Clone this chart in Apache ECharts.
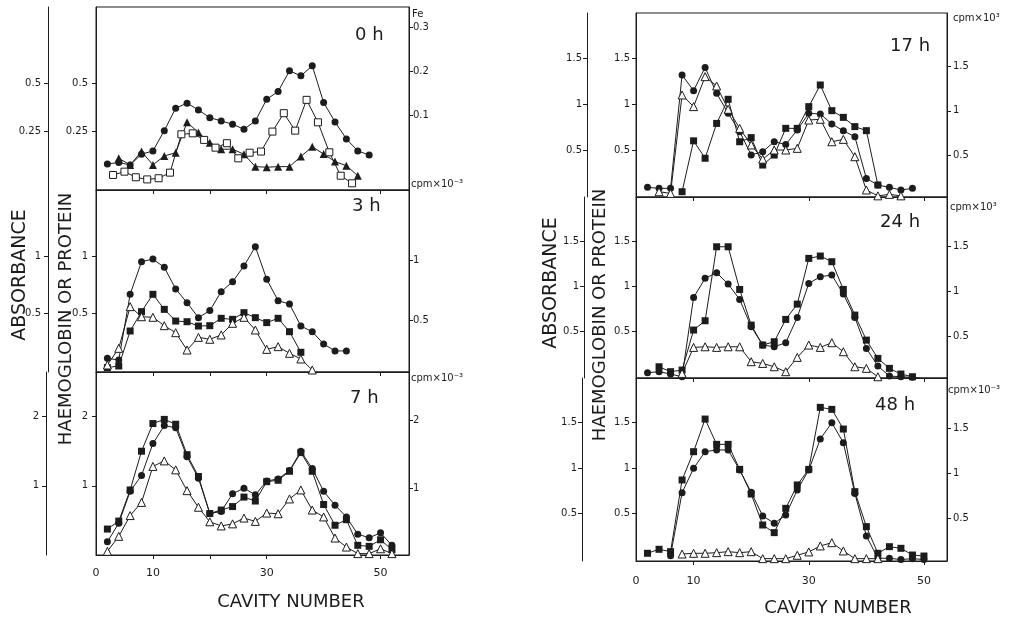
<!DOCTYPE html>
<html>
<head>
<meta charset="utf-8">
<script src="https://cdn.jsdelivr.net/npm/echarts@6/dist/echarts.min.js"></script>
<style>
html, body { margin: 0; background: #fff; }
#main { width: 1020px; height: 619px; }
</style>
</head>
<body>
<div id="main"></div>
<script>
// ---- readings, one panel at a time (x = cavity number, y = absorbance) ----

// 0 h
const cav0hCircle = [2, 4, 6, 8, 10, 12, 14, 16, 18, 20, 22, 24, 26, 28, 30, 32, 34, 36, 38, 40, 42, 44, 46, 48];
const abs0hCircle = [0.083, 0.09, 0.078, 0.133, 0.15, 0.255, 0.371, 0.397, 0.362, 0.322, 0.305, 0.288, 0.262, 0.305, 0.417, 0.457, 0.564, 0.538, 0.59, 0.40, 0.30, 0.212, 0.15, 0.129];
const cav0hTriangle = [4, 6, 8, 10, 12, 14, 16, 18, 20, 22, 24, 26, 28, 30, 32, 34, 36, 38, 40, 42, 44, 46];
const abs0hTriangle = [0.112, 0.078, 0.147, 0.078, 0.124, 0.141, 0.298, 0.245, 0.193, 0.159, 0.159, 0.133, 0.069, 0.066, 0.069, 0.069, 0.121, 0.172, 0.134, 0.095, 0.074, 0.022];
const cav0hOpenSquare = [3, 5, 7, 9, 11, 13, 15, 17, 19, 21, 23, 25, 27, 29, 31, 33, 35, 37, 39, 41, 43, 45];
const abs0hOpenSquare = [0.026, 0.043, 0.014, 0.003, 0.009, 0.038, 0.236, 0.241, 0.207, 0.167, 0.19, 0.112, 0.141, 0.147, 0.25, 0.345, 0.255, 0.414, 0.298, 0.143, 0.022, -0.017];

// 3 h
const cav3hCircle = [2, 4, 6, 8, 10, 12, 14, 16, 18, 20, 22, 24, 26, 28, 30, 32, 34, 36, 38, 40, 42, 44];
const abs3hCircle = [0.103, 0.088, 0.668, 0.956, 0.979, 0.906, 0.715, 0.594, 0.462, 0.524, 0.691, 0.779, 0.918, 1.088, 0.80, 0.612, 0.582, 0.388, 0.338, 0.229, 0.168, 0.168];
const cav3hSquare = [2, 4, 6, 8, 10, 12, 14, 16, 18, 20, 22, 24, 26, 28, 30, 32, 34, 36];
const abs3hSquare = [0.021, 0.035, 0.344, 0.515, 0.668, 0.535, 0.432, 0.426, 0.388, 0.391, 0.456, 0.447, 0.506, 0.462, 0.418, 0.456, 0.338, 0.156];
const cav3hOpenTriangle = [2, 4, 6, 8, 10, 12, 14, 16, 18, 20, 22, 24, 26, 28, 30, 32, 34, 36, 38];
const abs3hOpenTriangle = [0.044, 0.191, 0.559, 0.47, 0.465, 0.391, 0.329, 0.176, 0.288, 0.271, 0.309, 0.412, 0.465, 0.353, 0.182, 0.206, 0.147, 0.097, 0.0];

// 7 h
const cav7h = [2, 4, 6, 8, 10, 12, 14, 16, 18, 20, 22, 24, 26, 28, 30, 32, 34, 36, 38, 40, 42, 44, 46, 48, 50, 52];
const abs7hCircle = [0.19, 0.46, 0.92, 1.15, 1.61, 1.87, 1.84, 1.42, 1.11, 0.60, 0.63, 0.885, 0.966, 0.87, 1.07, 1.10, 1.22, 1.50, 1.25, 0.92, 0.72, 0.55, 0.30, 0.25, 0.32, 0.14];
const abs7hSquare = [0.375, 0.49, 0.94, 1.50, 1.90, 1.96, 1.89, 1.45, 1.135, 0.60, 0.65, 0.70, 0.837, 0.78, 1.06, 1.08, 1.21, 1.48, 1.21, 0.73, 0.43, 0.51, 0.14, 0.125, 0.22, 0.077];
const abs7hOpenTriangle = [0.053, 0.27, 0.57, 0.76, 1.28, 1.36, 1.23, 0.93, 0.69, 0.48, 0.42, 0.45, 0.534, 0.486, 0.606, 0.596, 0.81, 0.94, 0.65, 0.55, 0.245, 0.115, 0.02, 0.02, 0.09, 0.02];

// 17 h
const cav17hCircle = [2, 4, 6, 8, 10, 12, 14, 16, 18, 20, 22, 24, 26, 28, 30, 32, 34, 36, 38, 40, 42, 44, 46, 48];
const abs17hCircle = [0.093, 0.082, 0.082, 1.318, 1.147, 1.40, 1.118, 0.90, 0.70, 0.445, 0.482, 0.59, 0.56, 0.718, 0.90, 0.893, 0.784, 0.71, 0.645, 0.19, 0.118, 0.093, 0.064, 0.082];
const cav17hOpenTriangle = [4, 6, 8, 10, 12, 14, 16, 18, 20, 22, 24, 26, 28, 30, 32, 34, 36, 38, 40, 42, 44, 46];
const abs17hOpenTriangle = [0.045, 0.027, 1.10, 0.973, 1.30, 1.198, 0.944, 0.736, 0.555, 0.40, 0.50, 0.50, 0.518, 0.827, 0.835, 0.59, 0.616, 0.427, 0.064, 0.0, 0.016, 0.0];
const cav17hSquare = [8, 10, 12, 14, 16, 18, 20, 22, 24, 26, 28, 30, 32, 34, 36, 38, 40, 42];
const abs17hSquare = [0.045, 0.60, 0.41, 0.79, 1.053, 0.59, 0.635, 0.336, 0.445, 0.736, 0.736, 0.973, 1.209, 0.929, 0.856, 0.755, 0.711, 0.118];

// 24 h
const cav24hCircle = [2, 4, 6, 8, 10, 12, 14, 16, 18, 20, 22, 24, 26, 28, 30, 32, 34, 36, 38, 40, 42, 44, 46, 48, 50];
const abs24hCircle = [0.044, 0.056, 0.03, 0.0, 0.88, 1.093, 1.156, 1.03, 0.859, 0.556, 0.352, 0.333, 0.378, 0.659, 1.037, 1.111, 1.13, 0.919, 0.659, 0.315, 0.119, 0.008, 0.0, -0.007, -0.02];
const cav24hSquare = [4, 6, 8, 10, 12, 14, 16, 18, 20, 22, 24, 26, 28, 30, 32, 34, 36, 38, 40, 42, 44, 46, 48];
const abs24hSquare = [0.111, 0.056, 0.074, 0.519, 0.622, 1.444, 1.444, 0.97, 0.574, 0.352, 0.389, 0.637, 0.807, 1.315, 1.341, 1.278, 0.97, 0.685, 0.407, 0.204, 0.093, 0.03, 0.0];
const cav24hOpenTriangle = [8, 10, 12, 14, 16, 18, 20, 22, 24, 26, 28, 30, 32, 34, 36, 38, 40, 42];
const abs24hOpenTriangle = [0.037, 0.326, 0.333, 0.326, 0.333, 0.333, 0.167, 0.148, 0.111, 0.056, 0.215, 0.352, 0.326, 0.378, 0.278, 0.111, 0.093, 0.0];

// 48 h
const cav48hSquare = [2, 4, 6, 8, 10, 12, 14, 16, 18, 20, 22, 24, 26, 28, 30, 32, 34, 36, 38, 40, 42, 44, 46, 48, 50];
const abs48hSquare = [0.059, 0.103, 0.077, 0.868, 1.18, 1.54, 1.261, 1.261, 0.985, 0.713, 0.371, 0.287, 0.555, 0.813, 0.985, 1.669, 1.647, 1.43, 0.739, 0.353, 0.059, 0.132, 0.114, 0.04, 0.029];
const cav48hCircle = [6, 8, 10, 12, 14, 16, 18, 20, 22, 24, 26, 28, 30, 32, 34, 36, 38, 40, 42, 44, 46, 48, 50];
const abs48hCircle = [0.033, 0.728, 0.996, 1.18, 1.199, 1.199, 0.978, 0.732, 0.471, 0.39, 0.482, 0.757, 0.978, 1.32, 1.50, 1.279, 0.72, 0.25, 0.004, 0.004, -0.01, 0.0, -0.01];
const cav48hOpenTriangle = [8, 10, 12, 14, 16, 18, 20, 22, 24, 26, 28, 30, 32, 34, 36, 38, 40, 42];
const abs48hOpenTriangle = [0.051, 0.059, 0.059, 0.066, 0.077, 0.066, 0.077, 0.0, 0.0, 0.0, 0.037, 0.074, 0.14, 0.176, 0.085, 0.0, 0.0, 0.0];

// tick labels
const xLabels = [0, 10, 30, 50];
const xTicksLeft = [10, 20, 30, 50];
const xTicksRight = [10, 30, 50];
const yTicks0h = [0.25, 0.5];
const yTicksFe = [0.1, 0.2, 0.3];
const yTicks3h = [0.5, 1];
const yTicks7h = [1, 2];
const yTicksLate = [0.5, 1, 1.5];

// ---- layout ----
const ink = '#1c1c1c';
const fam = '"DejaVu Sans", sans-serif';

// one entry per panel: frame box, axis ranges, tick sets
const panels = [
    {name: '0 h',  left: 96,  top: 7,   width: 313, height: 183, xMax: 55, xTicks: xTicksLeft,  bottom: false,
     inner: [-0.0517, 0.8936], right: [-0.0705, 0.3455], yTicks: yTicks0h, rTicks: yTicksFe,   unit: 'Fe',
     outerOffset: 48, innerMargin: 8, outerMargin: 7, rightMargin: 4, titleAt: [355, 35], unitAt: [412, 14]},
    {name: '3 h',  left: 96,  top: 190, width: 313, height: 182, xMax: 55, xTicks: xTicksLeft,  bottom: false,
     inner: [-0.018, 1.589],   right: [0.067, 1.583],    yTicks: yTicks3h, rTicks: yTicks3h,   unit: 'cpm×10⁻³',
     outerOffset: 48, innerMargin: 8, outerMargin: 7, rightMargin: 4, titleAt: [352, 206], unitAt: [411, 184]},
    {name: '7 h',  left: 96,  top: 372, width: 313, height: 183, xMax: 55, xTicks: xTicksLeft,  bottom: true,
     inner: [0, 2.645],        right: [0.015, 2.706],    yTicks: yTicks7h, rTicks: yTicks7h,   unit: 'cpm×10⁻³',
     outerOffset: 50, innerMargin: 8, outerMargin: 7, rightMargin: 4, titleAt: [350, 398], unitAt: [411, 378], labelMargin: 13},
    {name: '17 h', left: 636, top: 13,  width: 311, height: 184, xMax: 54, xTicks: xTicksRight, bottom: false,
     inner: [-0.0125, 1.994],  right: [0.024, 2.108],    yTicks: yTicksLate, rTicks: yTicksLate, unit: 'cpm×10³',
     outerOffset: 49, innerMargin: 6, outerMargin: 5, rightMargin: 6, titleAt: [890, 46], unitAt: [953, 18]},
    {name: '24 h', left: 636, top: 197, width: 311, height: 181, xMax: 54, xTicks: xTicksRight, bottom: false,
     inner: [-0.014, 1.997],   right: [0.041, 2.052],    yTicks: yTicksLate, rTicks: yTicksLate, unit: 'cpm×10³',
     outerOffset: 52, innerMargin: 6, outerMargin: 5, rightMargin: 6, titleAt: [880, 222], unitAt: [950, 207]},
    {name: '48 h', left: 636, top: 378, width: 311, height: 183, xMax: 54, xTicks: xTicksRight, bottom: true,
     inner: [-0.026, 1.993],   right: [0.026, 2.059],    yTicks: yTicksLate, rTicks: yTicksLate, unit: 'cpm×10⁻³',
     outerOffset: 54, innerMargin: 6, outerMargin: 5, rightMargin: 6, titleAt: [875, 405], unitAt: [948, 390], labelMargin: 15}
];

const tickLabel = {color: ink, fontSize: 10, fontFamily: fam};

function makeYAxis(g, range, ticks, position, offset, margin) {
    return {
        type: 'value', gridIndex: g, position: position, offset: offset,
        min: range[0], max: range[1],
        axisLine: {show: true, onZero: false, lineStyle: {color: ink, width: 1}},
        axisTick: {show: true, customValues: ticks, length: 4, lineStyle: {color: ink}},
        axisLabel: Object.assign({customValues: ticks, margin: margin}, tickLabel),
        splitLine: {show: false}
    };
}

const grids = [], xAxes = [], yAxes = [];
panels.forEach((p, g) => {
    grids.push({
        left: p.left, top: p.top, width: p.width, height: p.height,
        show: true, borderColor: ink, borderWidth: 1, backgroundColor: 'transparent',
        containLabel: false, outerBoundsMode: 'none'
    });
    xAxes.push({
        type: 'value', gridIndex: g, position: 'bottom', min: 0, max: p.xMax,
        axisLine: {show: true, onZero: false, lineStyle: {color: ink}},
        axisTick: {show: true, customValues: p.xTicks, length: 4, lineStyle: {color: ink}},
        axisLabel: {show: p.bottom, customValues: xLabels, margin: p.labelMargin || 12,
                    color: ink, fontSize: 11, fontFamily: fam},
        splitLine: {show: false}
    });
    // inner (haemoglobin/protein), outer (absorbance), right (Fe / cpm)
    yAxes.push(makeYAxis(g, p.inner, p.yTicks, 'left', 0, p.innerMargin));
    yAxes.push(makeYAxis(g, p.inner, p.yTicks, 'left', p.outerOffset, p.outerMargin));
    yAxes.push(makeYAxis(g, p.right, p.rTicks, 'right', 0, p.rightMargin));
});

function trace(g, xs, ys, shape, filled, size) {
    return {
        type: 'line', xAxisIndex: g, yAxisIndex: g * 3,
        data: xs.map((x, i) => [x, ys[i]]),
        symbol: shape, symbolSize: size, showAllSymbol: true,
        lineStyle: {color: ink, width: 1},
        itemStyle: {color: filled ? ink : '#fff', borderColor: ink, borderWidth: filled ? 0 : 1},
        emphasis: {disabled: true},
        z: filled ? 3 : 4
    };
}

const series = [
    trace(0, cav0hCircle, abs0hCircle, 'circle', true, 7),
    trace(0, cav0hTriangle, abs0hTriangle, 'triangle', true, 8),
    trace(0, cav0hOpenSquare, abs0hOpenSquare, 'rect', false, 7),

    trace(1, cav3hCircle, abs3hCircle, 'circle', true, 7),
    trace(1, cav3hSquare, abs3hSquare, 'rect', true, 7),
    trace(1, cav3hOpenTriangle, abs3hOpenTriangle, 'triangle', false, 8),

    trace(2, cav7h, abs7hCircle, 'circle', true, 7),
    trace(2, cav7h, abs7hSquare, 'rect', true, 7),
    trace(2, cav7h, abs7hOpenTriangle, 'triangle', false, 8),

    trace(3, cav17hCircle, abs17hCircle, 'circle', true, 7),
    trace(3, cav17hSquare, abs17hSquare, 'rect', true, 7),
    trace(3, cav17hOpenTriangle, abs17hOpenTriangle, 'triangle', false, 8),

    trace(4, cav24hCircle, abs24hCircle, 'circle', true, 7),
    trace(4, cav24hSquare, abs24hSquare, 'rect', true, 7),
    trace(4, cav24hOpenTriangle, abs24hOpenTriangle, 'triangle', false, 8),

    trace(5, cav48hSquare, abs48hSquare, 'rect', true, 7),
    trace(5, cav48hCircle, abs48hCircle, 'circle', true, 7),
    trace(5, cav48hOpenTriangle, abs48hOpenTriangle, 'triangle', false, 8)
];

// free text: panel times, right axis units, axis titles
const texts = [];
panels.forEach(p => {
    texts.push({type: 'text', x: p.titleAt[0], y: p.titleAt[1],
        style: {text: p.name, font: '18px ' + fam, fill: ink, textVerticalAlign: 'middle'}});
    texts.push({type: 'text', x: p.unitAt[0], y: p.unitAt[1],
        style: {text: p.unit, font: '10px ' + fam, fill: ink, textVerticalAlign: 'middle'}});
});
function vertical(text, x, y, size) {
    return {type: 'text', x: x, y: y, rotation: Math.PI / 2,
        style: {text: text, font: size + 'px ' + fam, fill: ink, textAlign: 'center', textVerticalAlign: 'middle'}};
}
texts.push(vertical('ABSORBANCE', 20, 275, 19));
texts.push(vertical('HAEMOGLOBIN OR PROTEIN', 66, 319, 18));
texts.push(vertical('ABSORBANCE', 551, 283, 19));
texts.push(vertical('HAEMOGLOBIN OR PROTEIN', 600, 315, 18));
texts.push({type: 'text', x: 291, y: 602,
    style: {text: 'CAVITY NUMBER', font: '18px ' + fam, fill: ink, textAlign: 'center', textVerticalAlign: 'middle'}});
texts.push({type: 'text', x: 838, y: 608,
    style: {text: 'CAVITY NUMBER', font: '18px ' + fam, fill: ink, textAlign: 'center', textVerticalAlign: 'middle'}});

const chart = echarts.init(document.getElementById('main'), null, {renderer: 'canvas'});
chart.setOption({
    animation: false,
    backgroundColor: '#fff',
    textStyle: {fontFamily: fam},
    grid: grids,
    xAxis: xAxes,
    yAxis: yAxes,
    series: series,
    graphic: texts
});
</script>
</body>
</html>
